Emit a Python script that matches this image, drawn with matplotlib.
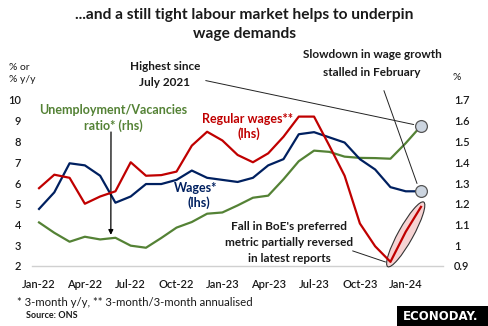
import matplotlib
matplotlib.use("Agg")
import matplotlib.pyplot as plt
from matplotlib.patches import Ellipse, Rectangle
from matplotlib.transforms import IdentityTransform
from matplotlib.ticker import FuncFormatter
import numpy as np

plt.rcParams['font.family'] = ['Lato', 'DejaVu Sans']

months = ["Jan-22", "Feb-22", "Mar-22", "Apr-22", "May-22", "Jun-22", "Jul-22", "Aug-22",
          "Sep-22", "Oct-22", "Nov-22", "Dec-22", "Jan-23", "Feb-23", "Mar-23", "Apr-23",
          "May-23", "Jun-23", "Jul-23", "Aug-23", "Sep-23", "Oct-23", "Nov-23", "Dec-23",
          "Jan-24", "Feb-24"]

# Total pay, 3-month y/y (%)
wages = [4.75, 5.55, 6.95, 6.85, 6.35, 5.05, 5.35, 5.95, 5.95, 6.15, 6.6, 6.25,
         6.15, 6.05, 6.25, 6.85, 7.15, 8.35, 8.45, 8.2, 7.95, 7.15, 6.65, 5.8,
         5.6, 5.6]

# Regular pay, 3-month/3-month annualised (%)
regular = [5.75, 6.4, 6.25, 5.0, 5.35, 5.6, 7.0, 6.35, 6.38, 6.55, 7.8, 8.47,
           8.05, 7.35, 7.0, 7.43, 8.23, 9.2, 9.2, 7.8, 6.35, 4.05, 2.95, 2.2,
           3.65, 4.85]

# Unemployment/vacancies ratio, 3-month average
uv_ratio = [1.11, 1.06, 1.017, 1.041, 1.028, 1.036, 0.998, 0.988, 1.035, 1.085,
            1.112, 1.152, 1.158, 1.192, 1.229, 1.239, 1.318, 1.405, 1.456, 1.450,
            1.427, 1.421, 1.420, 1.417, 1.492, 1.575]

left_ticks = [2, 3, 4, 5, 6, 7, 8, 9, 10]
right_ticks = [0.9, 1.0, 1.1, 1.2, 1.3, 1.4, 1.5, 1.6, 1.7]
xtick_idx = list(range(0, 26, 3))

RED = "#c00000"
NAVY = "#002060"
GREEN = "#548235"
TXT = "#1a1a1a"

W, H = 489, 326
fig = plt.figure(figsize=(W / 100, H / 100), dpi=100)


def fx(px):
    return px / W


def fy(py):
    return 1 - py / H


ax_l, ax_r, ax_t, ax_b = 32, 443, 100, 266
ax = fig.add_axes([fx(ax_l), fy(ax_b), (ax_r - ax_l) / W, (ax_b - ax_t) / H])
ax2 = ax.twinx()

x = np.arange(len(months))
ax.plot(x, wages, color=NAVY, lw=1.6, solid_joinstyle='round', zorder=3)
ax.plot(x, regular, color=RED, lw=1.6, solid_joinstyle='round', zorder=5)
ax2.plot(x, uv_ratio, color=GREEN, lw=1.6, solid_joinstyle='round', zorder=3)

ax.set_xlim(-0.46, 26.44)
ax.set_ylim(2, 10)
ax2.set_ylim(0.9, 1.7)

ax.set_yticks(left_ticks)
ax2.set_yticks(right_ticks)
ax2.yaxis.set_major_formatter(FuncFormatter(lambda v, p: f"{v:g}"))
ax.set_xticks(xtick_idx)
ax.set_xticklabels([months[i] for i in xtick_idx])

for a in (ax, ax2):
    for s in a.spines.values():
        s.set_visible(False)
    a.tick_params(length=0, labelsize=8, labelcolor=TXT)
ax.spines['bottom'].set_visible(True)
ax.spines['bottom'].set_color("#d0d0d0")
ax.spines['bottom'].set_linewidth(1.0)
ax.tick_params(axis='x', pad=9)
ax.tick_params(axis='y', pad=8)
ax2.tick_params(axis='y', pad=8)
for lab in ax.get_xticklabels() + ax.get_yticklabels() + ax2.get_yticklabels():
    lab.set_fontweight('semibold')

ax.set_zorder(ax2.get_zorder() + 1)
ax.patch.set_visible(False)

# Highlight markers on the latest readings
ax2.plot([x[-1]], [uv_ratio[-1]], 'o', ms=8.5, mfc="#ccd5e0", mec="#555555", mew=0.9,
         zorder=6, clip_on=False)
ax.plot([x[-1]], [wages[-1]], 'o', ms=8.5, mfc="#ccd5e0", mec="#555555", mew=0.9,
        zorder=6, clip_on=False)

# Ellipse around the latest rebound in regular pay (drawn beneath the red line)
fig.canvas.draw()
p0 = ax.transData.transform((x[-3], regular[-3]))
p1 = ax.transData.transform((x[-1], regular[-1]))
c = (p0 + p1) / 2
d = p1 - p0
length = np.hypot(*d) + 11
ang = np.degrees(np.arctan2(d[1], d[0]))
ell = Ellipse(c, length, 15, angle=ang, transform=IdentityTransform(),
              facecolor="#f6d3d3", edgecolor="#333333", lw=0.8, zorder=4, clip_on=False)
ax.add_artist(ell)

# Titles and axis captions
fig.text(0.5, fy(15), "...and a still tight labour market helps to underpin",
         ha='center', va='center', fontsize=11.2, fontweight='bold', color=TXT)
fig.text(0.5, fy(34), "wage demands", ha='center', va='center', fontsize=11.2,
         fontweight='bold', color=TXT)
fig.text(fx(9), fy(67), "% or", ha='left', va='center', fontsize=7.5, color=TXT)
fig.text(fx(9), fy(80), "% y/y", ha='left', va='center', fontsize=7.5, color=TXT)
fig.text(fx(453), fy(78), "%", ha='left', va='center', fontsize=7.5, color=TXT)

# Series labels
fig.text(fx(113), fy(110), "Unemployment/Vacancies", ha='center', va='center',
         fontsize=9, fontweight='bold', color=GREEN)
fig.text(fx(113), fy(126), "ratio* (rhs)", ha='center', va='center',
         fontsize=9, fontweight='bold', color=GREEN)
fig.text(fx(248), fy(119), "Regular wages**", ha='center', va='center',
         fontsize=9, fontweight='bold', color=RED)
fig.text(fx(249), fy(134), "(lhs)", ha='center', va='center',
         fontsize=9, fontweight='bold', color=RED)
fig.text(fx(196), fy(188), "Wages*", ha='center', va='center',
         fontsize=9, fontweight='bold', color=NAVY)
fig.text(fx(199), fy(203), "(lhs)", ha='center', va='center',
         fontsize=9, fontweight='bold', color=NAVY)

# Callouts
fig.text(fx(165), fy(66), "Highest since", ha='center', va='center',
         fontsize=8.5, fontweight='bold', color=TXT)
fig.text(fx(165), fy(82), "July 2021", ha='center', va='center',
         fontsize=8.5, fontweight='bold', color=TXT)
fig.text(fx(372), fy(55), "Slowdown in wage growth", ha='center', va='center',
         fontsize=8.5, fontweight='bold', color=TXT)
fig.text(fx(372), fy(73), "stalled in February", ha='center', va='center',
         fontsize=8.5, fontweight='bold', color=TXT)
for i, line in enumerate(["Fall in BoE's preferred", "metric partially reversed",
                          "in latest reports"]):
    fig.text(fx(289), fy(227 + 15.5 * i), line, ha='center', va='center',
             fontsize=8.5, fontweight='bold', color=TXT)

ax2.annotate("", xy=(x[-1] - 0.3, uv_ratio[-1] + 0.004), xycoords='data',
             xytext=(fx(203), fy(80)), textcoords='figure fraction',
             arrowprops=dict(arrowstyle='-', color="#222222", lw=0.7))
ax.annotate("", xy=(x[-1] - 0.2, wages[-1] + 0.25), xycoords='data',
            xytext=(fx(383), fy(88)), textcoords='figure fraction',
            arrowprops=dict(arrowstyle='-', color="#222222", lw=0.7))
ax.annotate("", xy=(x[-3] - 0.15, regular[-3] - 0.05), xycoords='data',
            xytext=(fx(350), fy(250)), textcoords='figure fraction',
            arrowprops=dict(arrowstyle='-', color="#222222", lw=0.7))
ax.annotate("", xy=(4.7, 3.5), xycoords='data',
            xytext=(fx(111), fy(132)), textcoords='figure fraction',
            arrowprops=dict(arrowstyle='-|>', color="black", lw=0.9,
                            mutation_scale=7, shrinkA=0, shrinkB=0))

# Footnotes
fig.text(fx(17), fy(303), "* 3-month y/y, ** 3-month/3-month annualised",
         ha='left', va='center', fontsize=8.2, color=TXT)
fig.text(fx(26), fy(316), "Source: ONS", ha='left', va='center',
         fontsize=6.5, fontweight='bold', color=TXT)

# Logo block
fig.add_artist(Rectangle((fx(397), fy(326)), (489 - 397) / W, (326 - 306) / H,
                         transform=fig.transFigure, facecolor="black", edgecolor='none'))
fig.text(fx(441), fy(316), "ECONODAY.", ha='center', va='center', fontsize=8.5,
         fontweight='heavy', color="white", family=['DejaVu Sans'])

fig.savefig("out.png", dpi=100)
